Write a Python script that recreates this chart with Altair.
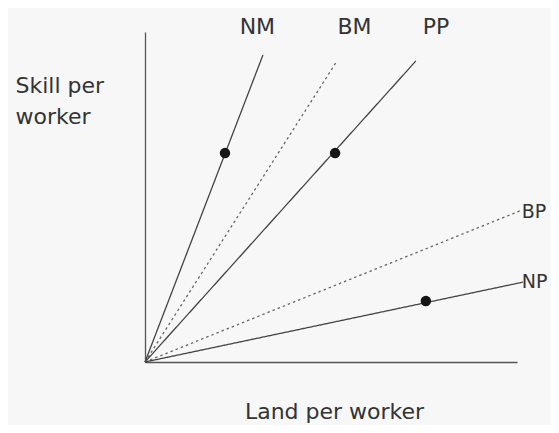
import altair as alt
import pandas as pd

# Rays from the origin (data units: land per worker, skill per worker)
series = ["NM", "BM", "PP", "BP", "NP"]
end_x = [3.17, 5.16, 7.28, 10.08, 10.16]
end_y = [9.30, 9.12, 9.12, 4.58, 2.42]
kind = ["solid", "dotted", "solid", "dotted", "solid"]

# Endowment points
dot_series = ["NM", "PP", "NP"]
dot_x = [2.15, 5.11, 7.55]
dot_y = [6.33, 6.33, 1.85]

# Ray labels
top_labels = ["NM", "BM", "PP"]
top_label_x = [3.02, 5.63, 7.82]
top_label_y = [9.95, 9.95, 9.95]
side_labels = ["BP", "NP"]
side_label_x = [10.13, 10.13]
side_label_y = [4.36, 2.24]

rows = []
for s, ex, ey, k in zip(series, end_x, end_y, kind):
    rows.append({"series": s, "x": 0.0, "y": 0.0, "kind": k, "order": 0})
    rows.append({"series": s, "x": ex, "y": ey, "kind": k, "order": 1})
lines_df = pd.DataFrame(rows)
dots_df = pd.DataFrame({"series": dot_series, "x": dot_x, "y": dot_y})
top_df = pd.DataFrame({"label": top_labels, "x": top_label_x, "y": top_label_y})
side_df = pd.DataFrame({"label": side_labels, "x": side_label_x, "y": side_label_y})

FONT = "DejaVu Sans"
TXT = "#333333"

xs = alt.Scale(domain=[0, 10], nice=False, zero=False)
ys = alt.Scale(domain=[0, 10], nice=False, zero=False)

x_axis = alt.Axis(
    title="Land per worker", ticks=False, labels=False, grid=False,
    domainColor="#555555", domainWidth=1.3,
    titleFont=FONT, titleFontSize=22, titleFontWeight="normal", titleColor=TXT,
    titleAlign="center", titleBaseline="alphabetic", titleX=189, titleY=56,
)
y_axis = alt.Axis(
    title=["Skill per", "worker"], ticks=False, labels=False, grid=False,
    domainColor="#555555", domainWidth=1.3,
    titleFont=FONT, titleFontSize=22, titleFontWeight="normal", titleColor=TXT,
    titleAngle=0, titleAlign="left", titleBaseline="alphabetic",
    titleX=-130, titleY=60, titleLineHeight=31,
)

lines = alt.Chart(lines_df).mark_line(strokeWidth=1.3, clip=False).encode(
    x=alt.X("x:Q", scale=xs, axis=x_axis),
    y=alt.Y("y:Q", scale=ys, axis=y_axis),
    detail="series:N",
    order="order:Q",
    strokeDash=alt.StrokeDash(
        "kind:N",
        scale=alt.Scale(domain=["solid", "dotted"], range=[[1, 0], [2.5, 3]]),
        legend=None,
    ),
    color=alt.Color(
        "kind:N",
        scale=alt.Scale(domain=["solid", "dotted"], range=["#444444", "#666666"]),
        legend=None,
    ),
)

dots = alt.Chart(dots_df).mark_circle(size=110, color="#151515", opacity=1).encode(
    x=alt.X("x:Q", scale=xs),
    y=alt.Y("y:Q", scale=ys),
)

top_text = alt.Chart(top_df).mark_text(
    font=FONT, fontSize=22, color=TXT, align="center", baseline="alphabetic"
).encode(
    x=alt.X("x:Q", scale=xs),
    y=alt.Y("y:Q", scale=ys),
    text="label:N",
)

side_text = alt.Chart(side_df).mark_text(
    font=FONT, fontSize=19, color=TXT, align="left", baseline="alphabetic"
).encode(
    x=alt.X("x:Q", scale=xs),
    y=alt.Y("y:Q", scale=ys),
    text="label:N",
)

chart = (
    alt.layer(lines, dots, top_text, side_text)
    .properties(
        width=372,
        height=330,
        padding={"left": 137, "top": 24, "right": 34, "bottom": 63},
        autosize=alt.AutoSizeParams(type="none"),
        background="#f7f7f7",
    )
    .configure_view(stroke=None)
)

chart.save("out.html", embed_options={"renderer": "svg", "actions": False})
